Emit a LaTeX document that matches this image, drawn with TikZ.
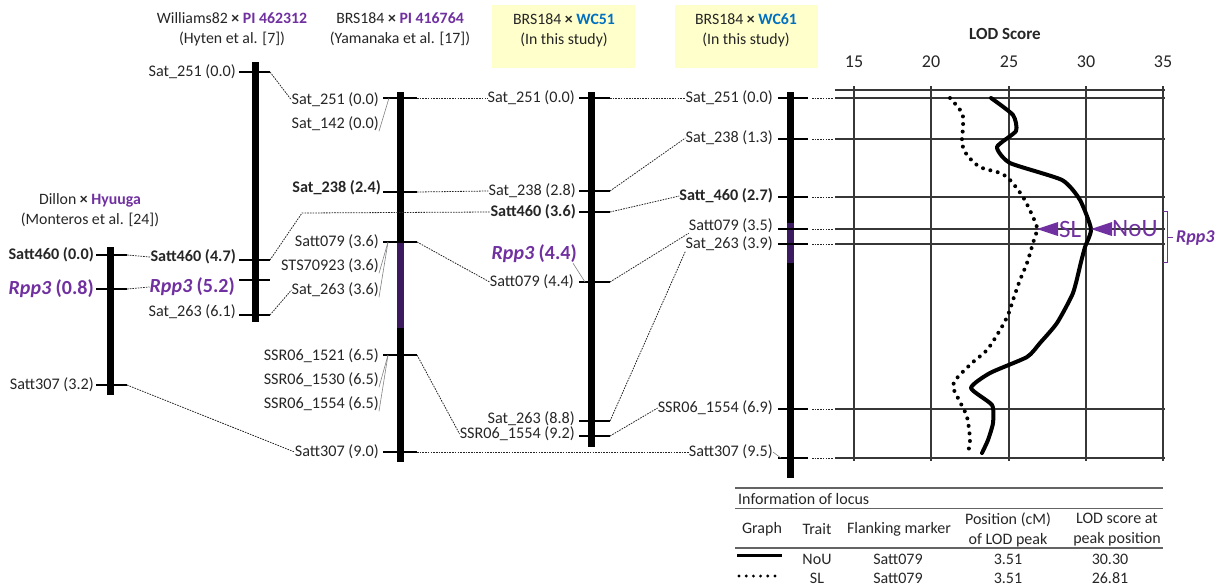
\documentclass[tikz,border=0pt]{standalone}
\usepackage{fontspec}
\setmainfont{Carlito}
\usetikzlibrary{calc}
\definecolor{txt}{RGB}{38,38,38}
\definecolor{pur}{RGB}{112,48,160}
\definecolor{dpur}{RGB}{60,26,96}
\definecolor{wcblue}{RGB}{0,112,192}
\definecolor{ylw}{RGB}{255,255,204}
\definecolor{gridc}{RGB}{55,55,55}
\definecolor{rulec}{RGB}{100,100,100}
\newcommand{\tkm}[4]{\coordinate (#1L) at (#2,#4); \coordinate (#1R) at (#3,#4); \draw[tk] (#1L) -- (#1R);}
\newcommand{\crs}{{\bfseries ×}}
\begin{document}
\begin{tikzpicture}[x=1pt,y=-1pt,
 lbl/.style={font=\fontsize{16.2}{18}\selectfont, text=txt, inner sep=0pt, anchor=east},
 blbl/.style={lbl, font=\fontsize{16.2}{18}\selectfont\bfseries},
 ttl/.style={font=\fontsize{15.8}{20}\selectfont, text=txt, inner sep=0pt, align=center},
 rpp/.style={font=\fontsize{20}{22}\selectfont\bfseries, text=pur, inner sep=0pt, anchor=east},
 chrom/.style={line width=7pt, black},
 tk/.style={line width=1.5pt, black},
 conn/.style={line width=0.8pt, txt, dash pattern=on 1.6pt off 1.1pt},
 lead/.style={line width=0.6pt, gray},
 gridl/.style={line width=1.3pt, gridc},
 axn/.style={font=\fontsize{18}{20}\selectfont, text=txt, inner sep=0pt},
 tbl/.style={font=\fontsize{16}{20}\selectfont, text=txt, inner sep=0pt, align=center},
 bign/.style={font=\fontsize{25}{27}\selectfont, text=pur, inner sep=0pt, anchor=west},
 ]
\useasboundingbox (0,0) rectangle (1229,587);

% ---------- titles ----------
\fill[ylw] (492,5) rectangle (635,68);
\fill[ylw] (675,5) rectangle (818,68);
\node[ttl] (t1) at (90,210) {Dillon \crs{} {\bfseries\color{pur}Hyuuga}\\(Monteros et al. [24])};
\node[ttl] (t2) at (232,29) {Williams82 \crs{} {\bfseries\color{pur}PI 462312}\\(Hyten et al. [7])};
\node[ttl] (t3) at (400,29) {BRS184 \crs{} {\bfseries\color{pur}PI 416764}\\(Yamanaka et al. [17])};
\node[ttl] (t4) at (564,30) {BRS184 \crs{} {\bfseries\color{wcblue}WC51}\\(In this study)};
\node[ttl] (t5) at (746,30) {BRS184 \crs{} {\bfseries\color{wcblue}WC61}\\(In this study)};

% ---------- column 1 ----------
\draw[chrom] (110,247) -- (110,395);
\tkm{a1}{96}{127}{255}
\tkm{a2}{96}{127}{289}
\tkm{a3}{96}{127}{385}
\node[blbl] (na1) at (94,255) {Satt460 (0.0)};
\node[rpp] (na2) at (94,289) {{\itshape Rpp3} (0.8)};
\node[lbl] (na3) at (94,385) {Satt307 (3.2)};

% ---------- column 2 ----------
\draw[chrom] (255,62) -- (255,322);
\tkm{b1}{239}{270}{72}
\tkm{b2}{239}{270}{260}
\tkm{b3}{239}{270}{280}
\tkm{b4}{239}{270}{315}
\node[lbl] (nb1) at (236,72) {Sat\_251 (0.0)};
\node[blbl] (nb2) at (236,257) {Satt460 (4.7)};
\node[rpp] (nb3) at (235,287) {{\itshape Rpp3} (5.2)};
\node[lbl] (nb4) at (236,312) {Sat\_263 (6.1)};

% ---------- column 3 ----------
\draw[chrom] (400,92) -- (400,462);
\draw[line width=7pt, dpur] (400,242) -- (400,328);
\tkm{c1}{383}{417}{98}
\tkm{c2}{383}{417}{192}
\tkm{c3}{383}{417}{242}
\tkm{c4}{383}{417}{355}
\tkm{c5}{383}{417}{452}
\node[lbl] (nc1) at (379,100) {Sat\_251 (0.0)};
\node[lbl] (nc1b) at (379,124) {Sat\_142 (0.0)};
\node[blbl] (nc2) at (381,188) {Sat\_238 (2.4)};
\node[lbl] (nc3) at (379,242) {Satt079 (3.6)};
\node[lbl] (nc3b) at (379,266) {STS70923 (3.6)};
\node[lbl] (nc3c) at (379,290) {Sat\_263 (3.6)};
\node[lbl] (nc4) at (379,356) {SSR06\_1521 (6.5)};
\node[lbl] (nc4b) at (379,380) {SSR06\_1530 (6.5)};
\node[lbl] (nc4c) at (379,404) {SSR06\_1554 (6.5)};
\node[lbl] (nc5) at (379,452) {Satt307 (9.0)};
\draw[lead] (nc1b.south east) -- ([xshift=6pt]c1L);
\draw[lead] (nc3b.south east) -- ([xshift=5pt]c3L);
\draw[lead] (nc3c.south east) -- ([xshift=5pt]c3L);
\draw[lead] (nc4b.south east) -- ([xshift=5pt]c4L);
\draw[lead] (nc4c.south east) -- ([xshift=5pt]c4L);

% ---------- column 4 ----------
\draw[chrom] (591,92) -- (591,447);
\tkm{d1}{579}{610}{98}
\tkm{d2}{579}{610}{191}
\tkm{d3}{579}{610}{212}
\tkm{d4}{579}{610}{282}
\tkm{d5}{579}{610}{421}
\tkm{d6}{579}{610}{436}
\node[lbl] (nd1) at (575,98) {Sat\_251 (0.0)};
\node[lbl] (nd2) at (576,191) {Sat\_238 (2.8)};
\node[blbl] (nd3) at (576,212) {Satt460 (3.6)};
\node[lbl] (nd4) at (574,282) {Satt079 (4.4)};
\node[lbl] (nd5) at (575,419) {Sat\_263 (8.8)};
\node[lbl] (nd6) at (575,434) {SSR06\_1554 (9.2)};
\node[rpp] (ndr) at (577,254) {{\itshape Rpp3} (4.4)};
\draw[lead] ([xshift=-4pt]ndr.south east) -- ([xshift=6pt]d4L);

% ---------- column 5 ----------
\draw[chrom] (790,92) -- (790,478);
\draw[line width=7pt, dpur] (790,223) -- (790,263);
\tkm{e1}{778}{808}{98}
\tkm{e2}{778}{808}{139}
\tkm{e3}{778}{808}{197}
\tkm{e4}{778}{808}{229}
\tkm{e5}{778}{808}{244}
\tkm{e6}{778}{808}{409}
\tkm{e7}{778}{808}{458}
\foreach \m in {e1,e2,e3,e4,e5,e6,e7} \draw[conn] ([xshift=4pt]\m R) -- ++(21,0);
\node[lbl] (ne1) at (773,98) {Sat\_251 (0.0)};
\node[lbl] (ne2) at (773,138) {Sat\_238 (1.3)};
\node[blbl] (ne3) at (773,196) {Satt\_460 (2.7)};
\node[lbl] (ne4) at (773,226) {Satt079 (3.5)};
\node[lbl] (ne5) at (773,244) {Sat\_263 (3.9)};
\node[lbl] (ne6) at (773,408) {SSR06\_1554 (6.9)};
\node[lbl] (ne7) at (773,452) {Satt307 (9.5)};
\draw[lead] (ne7.east) -- ([xshift=3pt]e7L);

% ---------- connectors ----------
\coordinate (bend1) at (302,213);
\draw[conn] (a1R) -- (nb2.west);
\draw[conn] (a2R) -- (nb3.west);
\draw[conn] (a3R) -- (nc5.west);
\draw[conn] (b1R) -- (nc1.west);
\draw[conn] (b2R) -- (bend1) -- (nd3.west);
\draw[conn] (b4R) -- (nc3c.west);
\draw[conn] (c1R) -- (nd1.west);
\draw[conn] (c2R) -- (nd2.west);
\draw[conn] (c3R) -- (nd4.west);
\draw[conn] (c4R) -- (nd6.west);
\draw[conn] (c5R) -- (ne7.west);
\draw[conn] (d1R) -- (ne1.west);
\draw[conn] (d2R) -- (ne2.west);
\draw[conn] (d3R) -- (ne3.west);
\draw[conn] (d4R) -- (ne4.south west);
\draw[conn] (d5R) -- (ne5.south west);
\draw[conn] (d6R) -- (ne6.west);

% ---------- LOD plot ----------
\node[font=\fontsize{17}{19}\selectfont\bfseries, text=txt, inner sep=0pt] (lodt) at (1005,34) {LOD Score};
\foreach \v/\xx in {15/854,20/931,25/1009,30/1086,35/1163} {
  \draw[gridl] (\xx,86) -- (\xx,461);
  \node[axn] (ax\v) at (\xx,62) {\v};
}
\draw[line width=1.6pt, gridc] (835,90) -- (1165,90);
\foreach \yy in {98,139,197,229,244,409,458} \draw[line width=1.1pt, gridc] (835,\yy) -- (1165,\yy);

% NoU curve
\draw[line width=4pt, line join=round, line cap=round] plot[smooth, tension=0.35] coordinates {
 (991,98) (1013,115) (1016,131) (997,147) (1010,163) (1062,180) (1080,200) (1091,229) (1085,247)
 (1081,262) (1073,293) (1057,323) (1040,343) (1027,357) (990,373) (971,388) (992,405) (993,423) (988,440) (982,453)};
% SL curve
\draw[line width=4pt, line cap=round, dash pattern=on 0pt off 7.6pt] plot[smooth, tension=0.5] coordinates {
 (950,98) (962,113) (963,127) (962,143) (967,155) (980,167) (1000,173) (1010,180) (1023,197) (1033,217) (1037,229)
 (1033,243) (1027,263) (1020,280) (1013,300) (1008,315) (1000,330) (987,350) (973,362) (957,378) (953,387) (960,402) (967,417) (970,440) (968,452)};

% peak arrows
\fill[pur] (1037,229) -- (1058,222) -- (1058,236) -- cycle;
\node[bign] (slt) at (1059,229) {SL};
\fill[pur] (1091,229) -- (1112,222) -- (1112,236) -- cycle;
\node[bign] (nout) at (1112,229) {NoU};

% Rpp3 bracket
\draw[pur, line width=0.8pt] (1163,211) -- (1167,211) -- (1167,262) -- (1163,262);
\draw[pur, line width=0.8pt] (1167,237) -- (1173,237);
\node[font=\fontsize{18}{20}\selectfont\bfseries\itshape, text=pur, inner sep=0pt, anchor=west] (rppb) at (1176,238) {Rpp3};

% ---------- table ----------
\draw[line width=1.3pt, rulec] (735,488) -- (1163,488);
\draw[line width=0.7pt, rulec] (735,508) -- (1163,508);
\draw[line width=1.3pt, rulec] (735,548) -- (1163,548);
\node[tbl, anchor=west] (info) at (738,499) {Information of locus};
\node[tbl] (hg) at (762,529) {Graph};
\node[tbl] (ht) at (817,529) {Trait};
\node[tbl] (hf) at (899,529) {Flanking marker};
\node[tbl] (hp) at (1008,530) {Position (cM)\\of LOD peak};
\node[tbl] (hl) at (1117,530) {LOD score at\\peak position};
\draw[line width=3pt] (737,555) -- (782,555);
\draw[line width=3.2pt, line cap=round, dash pattern=on 0pt off 7.2pt] (739,576) -- (782,576);
\node[tbl] (r1t) at (817,559) {NoU};
\node[tbl] (r1f) at (898,559) {Satt079};
\node[tbl] (r1p) at (1008,559) {3.51};
\node[tbl] (r1l) at (1110,559) {30.30};
\node[tbl] (r2t) at (817,578) {SL};
\node[tbl] (r2f) at (898,578) {Satt079};
\node[tbl] (r2p) at (1008,578) {3.51};
\node[tbl] (r2l) at (1110,578) {26.81};
\end{tikzpicture}
\end{document}
